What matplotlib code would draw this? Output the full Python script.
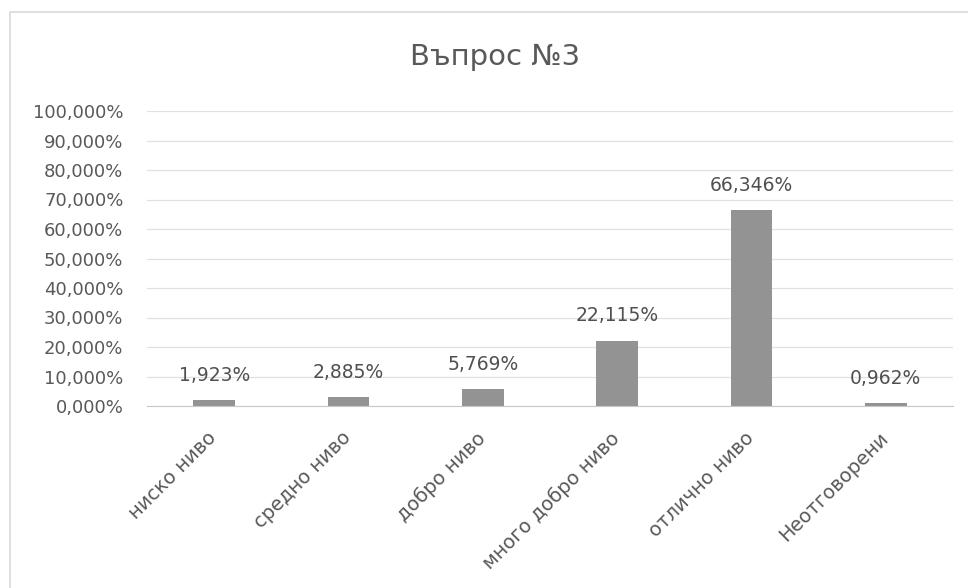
import matplotlib
matplotlib.use("Agg")
import matplotlib.pyplot as plt
import matplotlib.transforms as mtransforms
from matplotlib.patches import Rectangle
from matplotlib.ticker import FuncFormatter

plt.rcParams['font.family'] = ['DejaVu Sans']

title = "Въпрос №3"
categories = ["ниско ниво", "средно ниво", "добро ниво", "много добро ниво",
              "отлично ниво", "Неотговорени"]
values = [1.923, 2.885, 5.769, 22.115, 66.346, 0.962]
yticks = [0, 10, 20, 30, 40, 50, 60, 70, 80, 90, 100]

W, H = 968, 588
fig = plt.figure(figsize=(W / 100, H / 100), dpi=100)
fig.patch.set_facecolor("white")

# chart border
fig.patches.append(Rectangle((10 / W, -0.05), 1.0, (H - 12) / H + 0.05,
                             transform=fig.transFigure, fill=False,
                             edgecolor="#d9d9d9", linewidth=1.2))

ax = fig.add_axes([147 / W, (H - 406) / H, (953 - 147) / W, (406 - 111) / H])
x = list(range(len(categories)))
bars = ax.bar(x, values, width=0.31, color="#939393", zorder=3)

ax.set_xlim(-0.5, len(categories) - 0.5)
ax.set_ylim(0, 100)
ax.set_yticks(yticks)
ax.yaxis.set_major_formatter(FuncFormatter(lambda v, p: f"{v:.3f}".replace(".", ",") + "%"))
ax.grid(axis="y", color="#e0e0e0", linewidth=0.9, zorder=0)
for s in ["top", "right", "left"]:
    ax.spines[s].set_visible(False)
ax.spines["bottom"].set_color("#c8c8c8")
ax.spines["bottom"].set_zorder(4)
ax.tick_params(axis="y", length=0, pad=17, labelsize=13, labelcolor="#595959")
ax.tick_params(axis="x", length=0, pad=16, labelsize=14, labelcolor="#595959")

ax.set_xticks(x)
ax.set_xticklabels(categories, rotation=45, ha="right", va="top",
                   rotation_mode="anchor")
offset = mtransforms.ScaledTranslation(-7 / 100, 0, fig.dpi_scale_trans)
for lab in ax.get_xticklabels():
    lab.set_transform(lab.get_transform() + offset)

labels = [f"{v:.3f}".replace(".", ",") + "%" for v in values]
ax.bar_label(bars, labels=labels, padding=11, fontsize=13.5, color="#505050")

fig.text(495 / W, 1 - 57 / H, title, ha="center", va="center",
         fontsize=21, color="#595959")

fig.savefig("out.png", dpi=100, facecolor="white")
